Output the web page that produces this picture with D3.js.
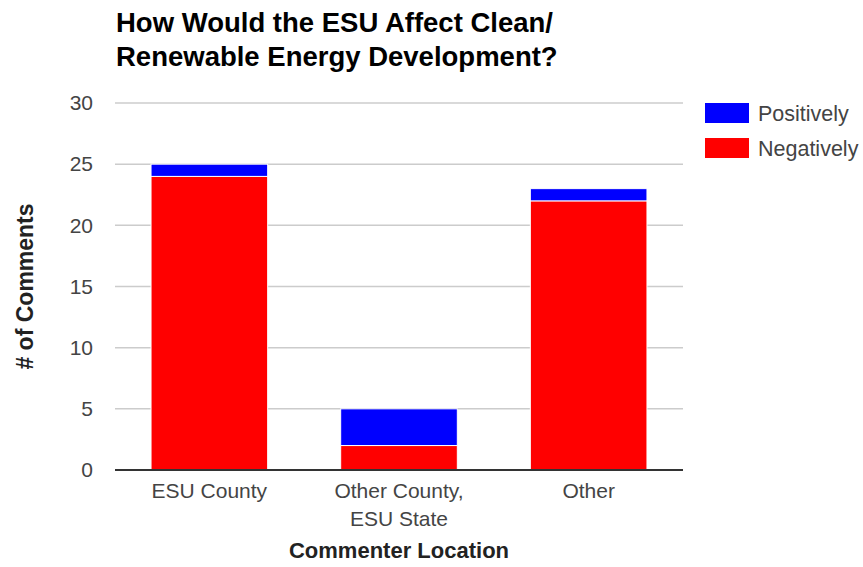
<!DOCTYPE html>
<html>
<head>
<meta charset="utf-8">
<script src="https://d3js.org/d3.v7.min.js"></script>
<style>
body { margin: 0; background: #fff; font-family: Arial, "Liberation Sans", sans-serif; }
.grid line { stroke: #ccc; stroke-width: 1.5; }
.tick text { fill: #444; font-size: 21px; }
</style>
</head>
<body>
<div id="chart"></div>
<script>
// Data
var categories = ["ESU County", "Other County,\nESU State", "Other"];
var negatively = [24, 2, 22];
var positively = [1, 3, 1];
var seriesNames = ["Positively", "Negatively"];
var seriesColors = ["#0000ff", "#ff0000"];
var yTicks = [0, 5, 10, 15, 20, 25, 30];

var width = 863, height = 567;
var plotLeft = 115, plotRight = 683, plotTop = 103, plotBottom = 470;

var svg = d3.select("#chart").append("svg")
  .attr("width", width).attr("height", height);

var x = d3.scaleBand().domain(categories).range([plotLeft, plotRight]).paddingInner(0.385).paddingOuter(0.19);
var y = d3.scaleLinear().domain([0, 30]).range([plotBottom, plotTop]);

// gridlines
svg.append("g").attr("class", "grid")
  .selectAll("line").data(yTicks.filter(function (d) { return d > 0; }))
  .enter().append("line")
  .attr("x1", plotLeft).attr("x2", plotRight)
  .attr("y1", function (d) { return y(d); }).attr("y2", function (d) { return y(d); });

// y axis labels
var yAxis = d3.axisLeft(y).tickValues(yTicks).tickSize(0).tickPadding(22);
var yg = svg.append("g").attr("transform", "translate(" + plotLeft + ",0)").call(yAxis);
yg.select(".domain").remove();
yg.selectAll("text").attr("font-family", "Arial, 'Liberation Sans', sans-serif");

// stacked bars
var stacked = categories.map(function (c, i) {
  return { cat: c, neg: negatively[i], pos: positively[i] };
});

svg.append("g").selectAll("rect.neg").data(stacked).enter().append("rect")
  .attr("x", function (d) { return x(d.cat); })
  .attr("width", x.bandwidth())
  .attr("y", function (d) { return y(d.neg); })
  .attr("height", function (d) { return y(0) - y(d.neg); })
  .attr("fill", seriesColors[1])
  .attr("stroke", "#fff").attr("stroke-width", 1);

svg.append("g").selectAll("rect.pos").data(stacked).enter().append("rect")
  .attr("x", function (d) { return x(d.cat); })
  .attr("width", x.bandwidth())
  .attr("y", function (d) { return y(d.neg + d.pos); })
  .attr("height", function (d) { return y(d.neg) - y(d.neg + d.pos); })
  .attr("fill", seriesColors[0])
  .attr("stroke", "#fff").attr("stroke-width", 1);

// baseline
svg.append("line")
  .attr("x1", plotLeft).attr("x2", plotRight)
  .attr("y1", y(0)).attr("y2", y(0))
  .attr("stroke", "#333").attr("stroke-width", 2);

// x axis labels
var xAxis = d3.axisBottom(x).tickSize(0).tickFormat("");
var xg = svg.append("g").attr("transform", "translate(0," + y(0) + ")").call(xAxis);
xg.select(".domain").remove();
xg.selectAll(".tick").each(function (d) {
  var lines = d.split("\n");
  var t = d3.select(this).append("text")
    .attr("text-anchor", "middle").attr("y", 28);
  lines.forEach(function (l, i) {
    t.append("tspan").attr("x", 0).attr("dy", i === 0 ? 0 : 28).text(l);
  });
});

// title
var title = svg.append("text").attr("x", 116).attr("y", 32)
  .attr("font-size", 27.5).attr("font-weight", "bold").attr("fill", "#000");
title.append("tspan").attr("x", 116).text("How Would the ESU Affect Clean/");
title.append("tspan").attr("x", 116).attr("dy", 34).text("Renewable Energy Development?");

// axis titles
svg.append("text")
  .attr("x", (plotLeft + plotRight) / 2).attr("y", 558)
  .attr("text-anchor", "middle").attr("font-size", 22).attr("font-weight", "bold")
  .attr("fill", "#222").text("Commenter Location");

svg.append("text")
  .attr("transform", "translate(33," + ((plotTop + plotBottom) / 2) + ") rotate(-90)")
  .attr("text-anchor", "middle").attr("font-size", 23).attr("font-weight", "bold")
  .attr("fill", "#222").text("# of Comments");

// legend
var legend = svg.append("g").selectAll("g").data(seriesNames).enter().append("g")
  .attr("transform", function (d, i) { return "translate(705," + (103 + i * 35) + ")"; });
legend.append("rect").attr("width", 44).attr("height", 20)
  .attr("fill", function (d, i) { return seriesColors[i]; });
legend.append("text").attr("x", 53).attr("y", 18)
  .attr("font-size", 21.5).attr("fill", "#444").text(function (d) { return d; });
</script>
</body>
</html>
